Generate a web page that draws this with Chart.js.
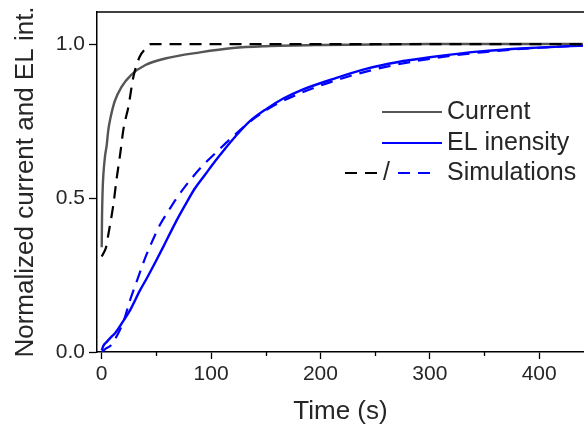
<!DOCTYPE html>
<html lang="en">
<head>
<meta charset="UTF-8">
<title>Normalized current and EL intensity</title>
<script src="https://cdn.jsdelivr.net/npm/chart.js"></script>
<style>
  body { margin: 0; background: #fff; }
  #wrap { width: 584px; height: 425px; }
</style>
</head>
<body>
<div id="wrap"><canvas id="chart" width="584" height="425"></canvas></div>
<script>
// measured current (grey)
const currentT = [0, 0.3, 0.8, 1.5, 3, 4.6, 6, 8, 12, 18, 27, 40, 58, 90, 120, 150, 200, 300, 440];
const currentY = [0.34, 0.44, 0.52, 0.575, 0.635, 0.672, 0.72, 0.76, 0.815, 0.86, 0.9, 0.932, 0.953, 0.973, 0.987, 0.993, 0.997, 1.0, 1.0];

// simulated current (black dashed)
const simCurrentT = [0, 1.5, 4, 6, 10.6, 13.7, 16.8, 20, 24.4, 29, 34.6, 40, 45, 440];
const simCurrentY = [0.31, 0.32, 0.34, 0.38, 0.477, 0.564, 0.64, 0.726, 0.796, 0.894, 0.958, 0.985, 1.0, 1.0];

// measured EL intensity (blue)
const elT = [0, 1.5, 4.6, 9, 12, 18.3, 26, 35, 41, 48.8, 56.4, 67, 76, 85, 95, 104, 113, 121, 135, 151, 166, 181.5, 212, 242.5, 270, 300, 346, 392, 440];
const elY = [0.005, 0.02, 0.033, 0.05, 0.06, 0.093, 0.136, 0.2, 0.238, 0.29, 0.342, 0.417, 0.475, 0.53, 0.578, 0.621, 0.661, 0.695, 0.748, 0.79, 0.823, 0.849, 0.887, 0.92, 0.941, 0.957, 0.976, 0.987, 0.995];

// simulated EL (blue dashed)
const simElT = [0, 4, 8, 15, 20, 25.9, 33.5, 39.6, 44.2, 48.8, 53.3, 61, 68, 76.2, 91.5, 106.7, 120, 140, 160, 200, 250, 300, 350, 400, 440];
const simElY = [0.0, 0.012, 0.02, 0.06, 0.1, 0.168, 0.244, 0.304, 0.343, 0.38, 0.413, 0.458, 0.497, 0.537, 0.602, 0.655, 0.7, 0.76, 0.805, 0.865, 0.918, 0.952, 0.974, 0.988, 0.995];

const xTicks = [0, 100, 200, 300, 400];
const xMinorTicks = [50, 150, 250, 350];
const yTicks = [0, 0.5, 1.0];

const fontFamily = "'Liberation Sans', Arial, sans-serif";
const textColor = '#262626';

function points(ts, ys) {
    return ts.map((t, i) => ({ x: t, y: ys[i] }));
}

// top frame line + short minor ticks on the time axis
const frame = {
    id: 'frame',
    afterDraw(chart) {
        const ctx = chart.ctx;
        const area = chart.chartArea;
        const xs = chart.scales.x;
        ctx.save();
        ctx.strokeStyle = '#000';
        ctx.lineWidth = 1.5;
        ctx.beginPath();
        ctx.moveTo(area.left, area.top);
        ctx.lineTo(area.right, area.top);
        ctx.stroke();
        ctx.lineWidth = 1.3;
        xMinorTicks.forEach(v => {
            const px = Math.round(xs.getPixelForValue(v)) + 0.5;
            ctx.beginPath();
            ctx.moveTo(px, area.bottom);
            ctx.lineTo(px, area.bottom + 4);
            ctx.stroke();
        });
        ctx.restore();
    }
};

// legend with the combined "- -/- -" simulation symbol
const legendBox = {
    id: 'legendBox',
    afterDraw(chart) {
        const ctx = chart.ctx;
        const textX = 447;
        const rows = [112, 143, 173];
        ctx.save();
        ctx.lineWidth = 2.2;
        ctx.strokeStyle = '#555555';
        ctx.beginPath(); ctx.moveTo(382, rows[0]); ctx.lineTo(442, rows[0]); ctx.stroke();
        ctx.strokeStyle = '#0000ff';
        ctx.beginPath(); ctx.moveTo(382, rows[1]); ctx.lineTo(442, rows[1]); ctx.stroke();
        ctx.setLineDash([12, 8]);
        ctx.strokeStyle = '#000';
        ctx.beginPath(); ctx.moveTo(345, rows[2]); ctx.lineTo(377, rows[2]); ctx.stroke();
        ctx.strokeStyle = '#0000ff';
        ctx.beginPath(); ctx.moveTo(398, rows[2]); ctx.lineTo(438, rows[2]); ctx.stroke();
        ctx.setLineDash([]);
        ctx.font = `25px ${fontFamily}`;
        ctx.fillStyle = textColor;
        ctx.textBaseline = 'middle';
        ctx.textAlign = 'left';
        ctx.fillText('Current', textX, rows[0]);
        ctx.fillText('EL inensity', textX, rows[1]);
        ctx.fillText('Simulations', textX, rows[2]);
        ctx.fillText('/', 383, rows[2]);
        ctx.restore();
    }
};

const ctx = document.getElementById('chart').getContext('2d');
new Chart(ctx, {
    type: 'line',
    data: {
        datasets: [
            {
                label: 'Simulation current',
                data: points(simCurrentT, simCurrentY),
                borderColor: '#000000',
                borderWidth: 2.2,
                borderDash: [12, 8],
                cubicInterpolationMode: 'monotone'
            },
            {
                label: 'Simulation EL',
                data: points(simElT, simElY),
                borderColor: '#0000ff',
                borderWidth: 2.2,
                borderDash: [12, 8],
                cubicInterpolationMode: 'monotone'
            },
            {
                label: 'Current',
                data: points(currentT, currentY),
                borderColor: '#555555',
                borderWidth: 2.4,
                cubicInterpolationMode: 'monotone'
            },
            {
                label: 'EL inensity',
                data: points(elT, elY),
                borderColor: '#0000ff',
                borderWidth: 2.4,
                cubicInterpolationMode: 'monotone'
            }
        ]
    },
    options: {
        responsive: false,
        animation: false,
        events: [],
        elements: { point: { radius: 0 } },
        layout: { padding: { top: 12, right: 0, left: 0, bottom: 0 } },
        plugins: {
            legend: { display: false },
            tooltip: { enabled: false }
        },
        scales: {
            x: {
                type: 'linear',
                min: -4.3,
                max: 441,
                afterBuildTicks: axis => { axis.ticks = xTicks.map(v => ({ value: v })); },
                afterFit: axis => { axis.height = 73; },
                border: { display: true, color: '#000', width: 1.5 },
                grid: { drawOnChartArea: false, tickLength: 7, tickColor: '#000', tickWidth: 1.3 },
                ticks: {
                    color: textColor,
                    font: { family: fontFamily, size: 21 },
                    padding: 3,
                    maxRotation: 0,
                    callback: v => String(v)
                },
                title: {
                    display: true,
                    text: 'Time (s)',
                    color: textColor,
                    font: { family: fontFamily, size: 26, lineHeight: 1 },
                    padding: { top: 0, bottom: 0 }
                }
            },
            y: {
                min: 0,
                max: 1.104,
                afterBuildTicks: axis => { axis.ticks = yTicks.map(v => ({ value: v })); },
                afterFit: axis => {
                    axis.width = 97;
                    axis.paddingTop = 0;
                    axis.paddingBottom = 0;
                },
                border: { display: true, color: '#000', width: 1.5 },
                grid: { drawOnChartArea: false, tickLength: 8, tickColor: '#000', tickWidth: 1.3 },
                ticks: {
                    color: textColor,
                    font: { family: fontFamily, size: 21 },
                    padding: 4,
                    callback: v => Number(v).toFixed(1)
                },
                title: {
                    display: true,
                    text: 'Normalized current and EL int.',
                    color: textColor,
                    font: { family: fontFamily, size: 26, lineHeight: 1.2 },
                    padding: { top: 10, bottom: 0 }
                }
            }
        }
    },
    plugins: [frame, legendBox]
});
</script>
</body>
</html>
